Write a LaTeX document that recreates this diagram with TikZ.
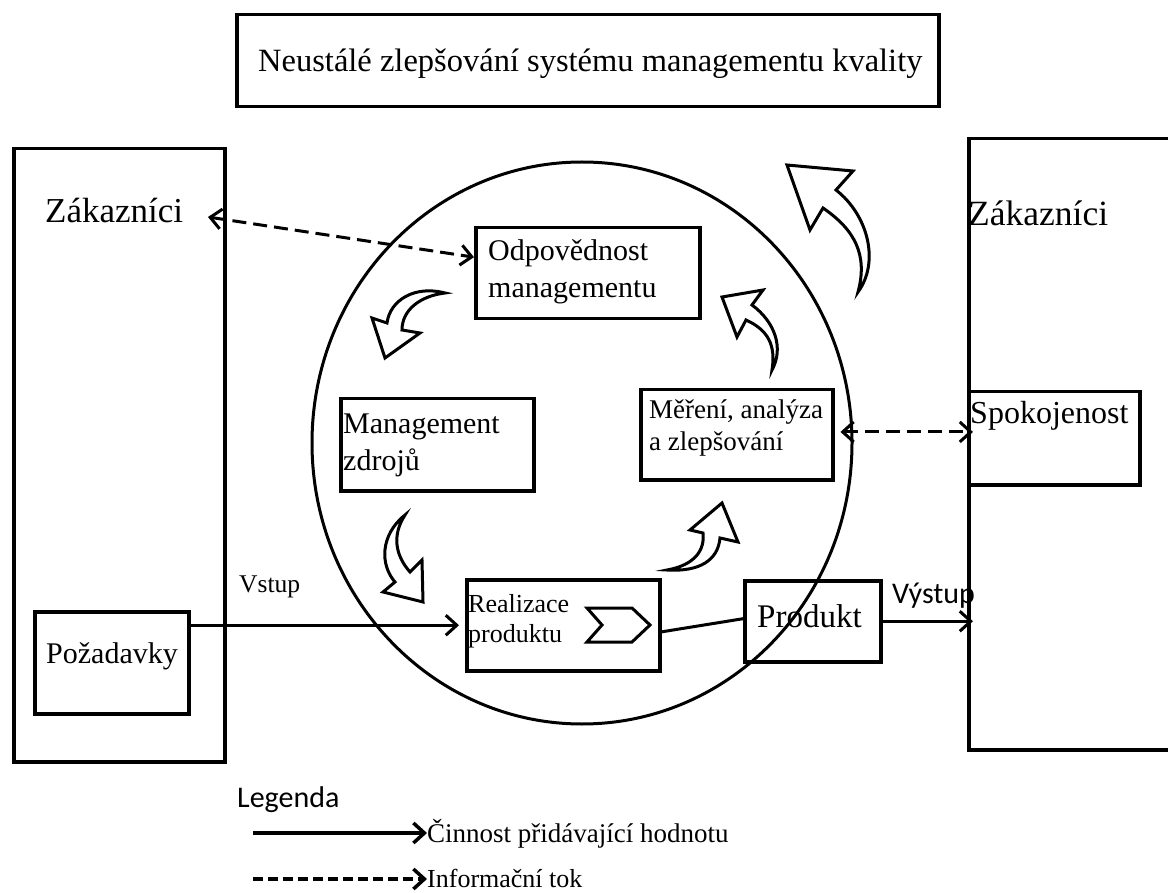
\documentclass[tikz,border=0pt]{standalone}
\usepackage{fontspec}
\setmainfont{Liberation Serif}
\newfontfamily\calib{Carlito}
\usetikzlibrary{arrows.meta,calc}

\tikzset{
  box/.style={draw, line width=3.5pt, rectangle, inner sep=0pt, anchor=north west},
  barb/.tip={Straight Barb[length=11pt,width=20pt]},
  flow/.style={line width=3pt, -barb},
  info/.style={line width=3pt, dash pattern=on 14pt off 7pt, barb-barb},
  blockarrow/.style={draw, line width=3pt, fill=white, line join=miter},
  lbl/.style={anchor=base west, inner sep=0pt},
  fs/.style={font=\fontsize{#1}{#1}\selectfont},
}

\begin{document}
\begin{tikzpicture}[x=1pt,y=-1pt]
\clip (0,0) rectangle (1168,893);
\fill[white] (0,0) rectangle (1168,893);

% frames
\node[box, minimum width=702, minimum height=92] (top) at (235,13) {};
\node[box, minimum width=211, minimum height=613] (custL) at (12,147) {};
\node[box, minimum width=230, minimum height=611] (custR) at (967,137) {};
\node[box, minimum width=154, minimum height=102] (poz) at (33,610) {};
\node[box, minimum width=171, minimum height=93] (spok) at (967,390) {};

% process cycle
\draw[line width=3pt] (582,443) ellipse [x radius=270, y radius=281];
\node[box, minimum width=224, minimum height=91] (odp) at (474,226) {};
\node[box, minimum width=193, minimum height=92] (mgmt) at (339,397) {};
\node[box, minimum width=192, minimum height=90] (mer) at (639,388) {};
\node[box, minimum width=193, minimum height=91] (real) at (465,578) {};
\node[box, minimum width=136, minimum height=81] (prod) at (743,579) {};

% texts
\node[lbl, fs=32.5] at (258,72) {Neustálé zlepšování systému managementu kvality};
\node[lbl, fs=35] (zakL) at (45,223) {Zákazníci};
\node[lbl, fs=35.5] (zakR) at (968,226) {Zákazníci};
\node[lbl, fs=30] at (488,261) {Odpovědnost};
\node[lbl, fs=30] at (488,298) {managementu};
\node[lbl, fs=30] at (343,433) {Management};
\node[lbl, fs=30] at (343,470) {zdrojů};
\node[lbl, fs=27] at (649,418) {Měření, analýza};
\node[lbl, fs=27] at (649,450) {a zlepšování};
\node[lbl, fs=26] at (468,612) {Realizace};
\node[lbl, fs=26] at (468,642) {produktu};
\node[lbl, fs=33] at (757,627) {Produkt};
\node[lbl, fs=32] at (970,424) {Spokojenost};
\node[lbl, fs=30] at (46,663) {Požadavky};
\node[lbl, fs=25.5] at (239,592) {Vstup};
\node[lbl, font=\calib\fontsize{30}{30}\selectfont] at (892,603) {Výstup};

% value-adding flow
\draw[flow] (real.west -| poz.east) -- ([xshift=-6pt]real.west);
\draw[line width=3pt] ($(real.north east)!0.57!(real.south east)$) -- ($(prod.north west)!0.47!(prod.south west)$);
\draw[flow, shorten >=-6pt] (prod.east) -- (prod.east -| custR.west);

% information flow
\coordinate (zakTip) at (208,217);
\draw[info] (zakTip) -- ($(odp.north west)!0.33!(odp.south west)$);
\coordinate (merR) at ($(mer.north east)!0.47!(mer.south east)$);
\draw[info, shorten <=6pt, shorten >=-6pt] (merR) -- (merR -| spok.west);

% chevron in product realisation
\draw[blockarrow] (587,608) -- (632,608) -- (650,625) -- (632,642) -- (587,642) -- (602,625) -- cycle;

% curved block arrows of the cycle
\draw[blockarrow] (445,293) .. controls (415,285) and (390,300) .. (387,323)
  -- (372,318) -- (385,358) -- (420,333) -- (402,330)
  .. controls (402,310) and (420,296) .. cycle;
\draw[blockarrow] (405,515) .. controls (380,535) and (380,565) .. (395,582)
  -- (383,592) -- (423,602) -- (422,560) -- (410,572)
  .. controls (395,555) and (392,535) .. cycle;
\draw[blockarrow] (667,570) .. controls (695,565) and (705,550) .. (703,533)
  -- (690,530) -- (722,503) -- (738,542) -- (720,538)
  .. controls (718,560) and (700,572) .. cycle;
\draw[blockarrow] (722,297) -- (763,290) -- (752,305)
  .. controls (775,322) and (784,348) .. (772,370)
  .. controls (776,345) and (768,330) .. (746,320)
  -- (737,337) -- cycle;
% improvement arrow
\draw[blockarrow] (787,165) -- (853,171) -- (836,190)
  .. controls (868,215) and (880,262) .. (858,292)
  .. controls (868,255) and (855,230) .. (823,208)
  -- (810,230) -- cycle;

% legend
\node[lbl, font=\calib\fontsize{30}{30}\selectfont] at (237,807) {Legenda};
\coordinate (l1a) at (253,833);
\node[lbl, fs=27] (l1t) at (427,842) {Činnost přidávající hodnotu};
\draw[flow, line width=3.5pt] (l1a) -- (l1a -| l1t.west);
\coordinate (l2a) at (253,879);
\node[lbl, fs=26] (l2t) at (427,887) {Informační tok};
\draw[line width=3.5pt, dash pattern=on 10pt off 5pt, -barb] (l2a) -- (l2a -| l2t.west);
\end{tikzpicture}
\end{document}
